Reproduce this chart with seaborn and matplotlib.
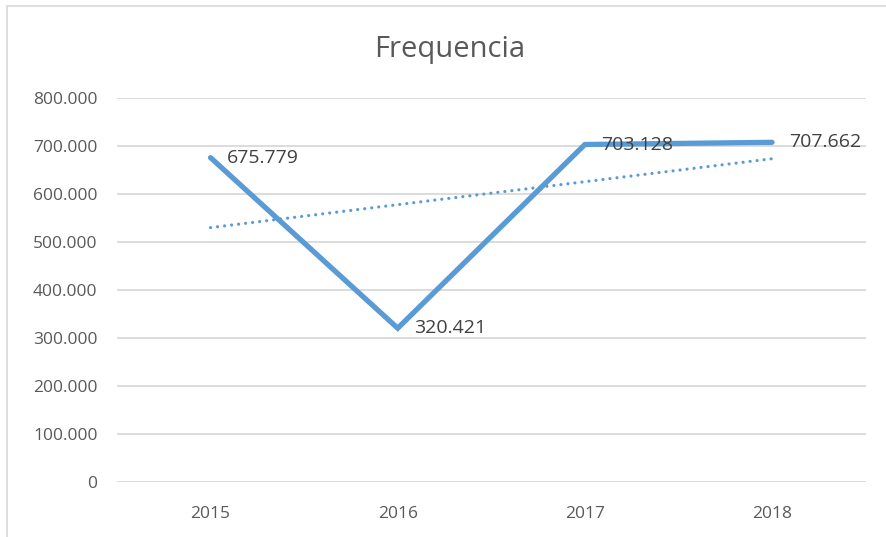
import numpy as np
import pandas as pd
import matplotlib
matplotlib.use("Agg")
import matplotlib.pyplot as plt
import seaborn as sns
from matplotlib.ticker import FuncFormatter
from matplotlib.patches import Rectangle

years = ["2015", "2016", "2017", "2018"]
frequencia = [675779, 320421, 703128, 707662]

df = pd.DataFrame({"pos": range(len(years)), "ano": years, "freq": frequencia})

sns.set_style("white")
plt.rcParams["font.family"] = ["Open Sans", "DejaVu Sans"]

blue = "#5B9BD5"
grey = "#595959"

fig = plt.figure(figsize=(8.86, 5.37), dpi=100)
ax = fig.add_axes([0.132, 0.1024, 0.845, 0.7151])

sns.lineplot(data=df, x="pos", y="freq", color=blue, linewidth=3.8, ax=ax,
             solid_capstyle="round", solid_joinstyle="miter")

# linear trendline like Excel
coef = np.polyfit(df["pos"], df["freq"], 1)
trend = np.polyval(coef, df["pos"])
ax.plot(df["pos"], trend, color=blue, linewidth=2.3, linestyle=(0, (0.01, 2.2)),
        dash_capstyle="round")

def fmt(v):
    return f"{int(v):,}".replace(",", ".")

for x, y in zip(df["pos"], df["freq"]):
    ax.annotate(fmt(y), (x, y), xytext=(12, 0), textcoords="offset points",
                va="center", ha="left", fontsize=14, color="#404040")

ax.set_ylim(0, 800000)
ax.set_yticks(range(0, 800001, 100000))
ax.yaxis.set_major_formatter(FuncFormatter(lambda v, p: "0" if v == 0 else fmt(v)))
ax.set_xlim(-0.5, 3.5)
ax.set_xticks(df["pos"])
ax.set_xticklabels(years)
ax.grid(axis="y", color="#D9D9D9", linewidth=1.3)
ax.set_axisbelow(True)
for s in ax.spines.values():
    s.set_visible(False)
ax.tick_params(axis="both", length=0, labelsize=12.5, labelcolor=grey)
ax.tick_params(axis="y", pad=14)
ax.tick_params(axis="x", pad=17)
ax.set_xlabel("")
ax.set_ylabel("")
fig.text(0.508, 1 - 50 / 537, "Frequencia", fontsize=21, color=grey,
         ha="center", va="center")

fig.patches.append(Rectangle((0.008, -0.1), 1.1, 1.089, transform=fig.transFigure,
                             fill=False, edgecolor="#D9D9D9", linewidth=1.2))

fig.savefig("out.png", dpi=100)
